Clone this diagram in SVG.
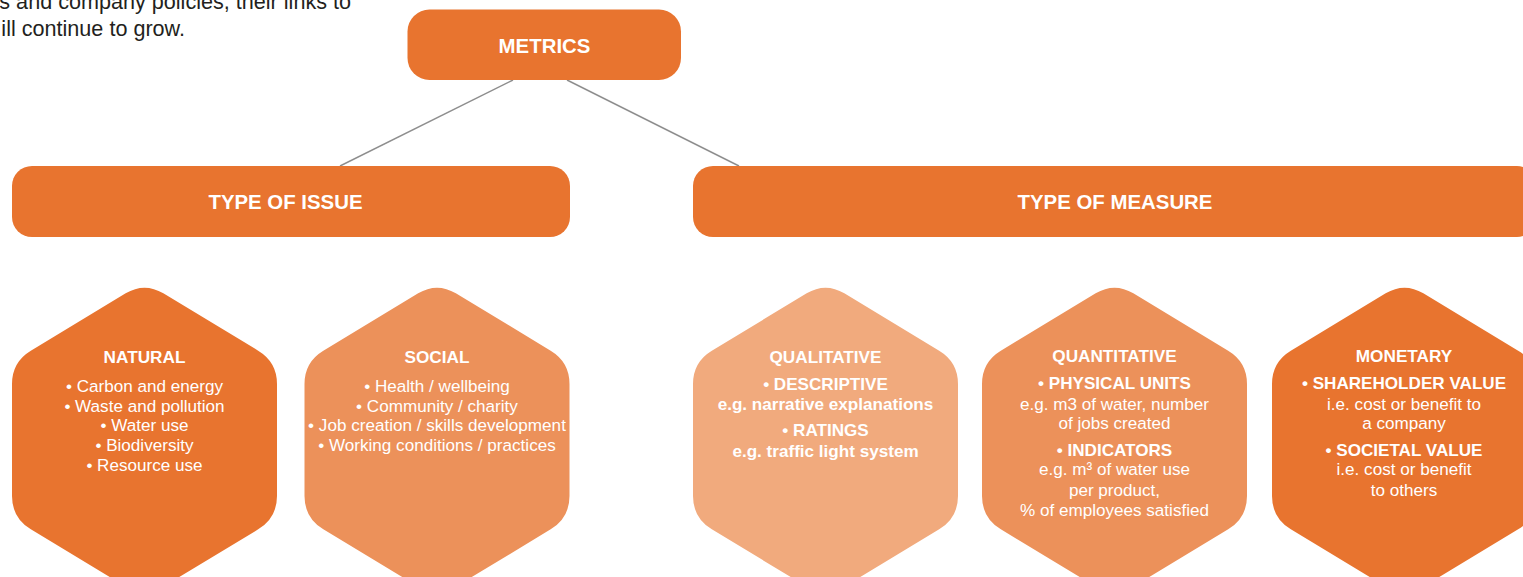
<svg xmlns="http://www.w3.org/2000/svg" width="1523" height="577" viewBox="0 0 1523 577">
<style>
.dark{fill:#E8742F}
.mid{fill:#EC915A}
.light{fill:#F1AA7D}
.hdr{font-family:"Liberation Sans",Arial,sans-serif;font-size:20.4px;font-weight:bold;fill:#fff;text-anchor:middle}
.ttl{font-family:"Liberation Sans",Arial,sans-serif;font-size:17.2px;font-weight:bold;fill:#fff;text-anchor:middle}
.txt{font-family:"Liberation Sans",Arial,sans-serif;font-size:17.1px;fill:#fff;text-anchor:middle}
.b{font-weight:bold}
.intro{font-family:"Liberation Sans",Arial,sans-serif;font-size:21.6px;fill:#231F20;text-anchor:end}
.conn{stroke:#8E8E8E;stroke-width:1.4;fill:none}
</style>
<defs>
<path id="hex" d="M -18.83,293.37 Q 0,282 18.83,293.37 L 113.67,350.63 Q 132.5,362 132.5,384 L 132.5,496 Q 132.5,518 113.67,529.37 L 18.83,586.63 Q 0,598 -18.83,586.63 L -113.67,529.37 Q -132.5,518 -132.5,496 L -132.5,384 Q -132.5,362 -113.67,350.63 Z"/>
</defs>
<rect width="1523" height="577" fill="#fff"/>
<g id="intro">
<text class="intro" x="351" y="9">s and company policies, their links to</text>
<text class="intro" x="185" y="36">ill continue to grow.</text>
</g>
<g id="connectors">
<line class="conn" x1="513" y1="80" x2="340" y2="166"/>
<line class="conn" x1="567" y1="80" x2="739" y2="166"/>
</g>
<g id="metrics">
<rect class="dark" x="407.5" y="9.5" width="273.5" height="70.5" rx="22"/>
<text class="hdr" x="544.5" y="52.5">METRICS</text>
</g>
<g id="type-of-issue">
<rect class="dark" x="12" y="166" width="558" height="71" rx="20"/>
<text class="hdr" x="285.5" y="209">TYPE OF ISSUE</text>
</g>
<g id="type-of-measure">
<rect class="dark" x="693" y="166" width="844" height="71" rx="20"/>
<text class="hdr" x="1115" y="209">TYPE OF MEASURE</text>
</g>
<g id="natural">
<use href="#hex" class="dark" transform="translate(144.5,0)"/>
<text class="ttl" x="144.5" y="363">NATURAL</text>
<text class="txt" x="144.5" y="392">• Carbon and energy</text>
<text class="txt" x="144.5" y="412">• Waste and pollution</text>
<text class="txt" x="144.5" y="431">• Water use</text>
<text class="txt" x="144.5" y="451">• Biodiversity</text>
<text class="txt" x="144.5" y="471">• Resource use</text>
</g>
<g id="social">
<use href="#hex" class="mid" transform="translate(437,0)"/>
<text class="ttl" x="437" y="363">SOCIAL</text>
<text class="txt" x="437" y="392">• Health / wellbeing</text>
<text class="txt" x="437" y="412">• Community / charity</text>
<text class="txt" x="437" y="431">• Job creation / skills development</text>
<text class="txt" x="437" y="451">• Working conditions / practices</text>
</g>
<g id="qualitative">
<use href="#hex" class="light" transform="translate(825.5,0)"/>
<text class="ttl" x="825.5" y="363">QUALITATIVE</text>
<text class="txt b" x="825.5" y="390">• DESCRIPTIVE</text>
<text class="txt b" x="825.5" y="410">e.g. narrative explanations</text>
<text class="txt b" x="825.5" y="436">• RATINGS</text>
<text class="txt b" x="825.5" y="457">e.g. traffic light system</text>
</g>
<g id="quantitative">
<use href="#hex" class="mid" transform="translate(1114.5,0)"/>
<text class="ttl" x="1114.5" y="362">QUANTITATIVE</text>
<text class="txt b" x="1114.5" y="389">• PHYSICAL UNITS</text>
<text class="txt" x="1114.5" y="410">e.g. m3 of water, number</text>
<text class="txt" x="1114.5" y="429">of jobs created</text>
<text class="txt b" x="1114.5" y="456">• INDICATORS</text>
<text class="txt" x="1114.5" y="475">e.g. m³ of water use</text>
<text class="txt" x="1114.5" y="496">per product,</text>
<text class="txt" x="1114.5" y="516">% of employees satisfied</text>
</g>
<g id="monetary">
<use href="#hex" class="dark" transform="translate(1404.5,0)"/>
<text class="ttl" x="1404" y="362">MONETARY</text>
<text class="txt b" x="1404" y="389">• SHAREHOLDER VALUE</text>
<text class="txt" x="1404" y="410">i.e. cost or benefit to</text>
<text class="txt" x="1404" y="429">a company</text>
<text class="txt b" x="1404" y="456">• SOCIETAL VALUE</text>
<text class="txt" x="1404" y="475">i.e. cost or benefit</text>
<text class="txt" x="1404" y="496">to others</text>
</g>
</svg>
